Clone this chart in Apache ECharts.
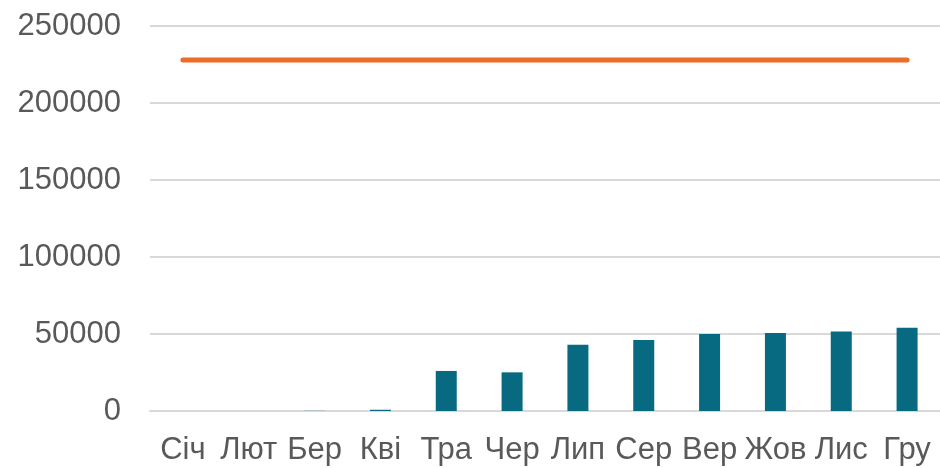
<!DOCTYPE html>
<html><head><meta charset="utf-8">
<script src="https://cdn.jsdelivr.net/npm/echarts@6/dist/echarts.min.js"></script>
<style>html,body{margin:0;padding:0;background:#fff}#c{width:940px;height:468px}</style>
</head><body><div id="c"></div>
<script>
const categories = ['Січ','Лют','Бер','Кві','Тра','Чер','Лип','Сер','Вер','Жов','Лис','Гру'];
const barValues = [0, 0, 100, 800, 26000, 25100, 43000, 46100, 50000, 50700, 51700, 54100];
const lineValues = [228000, 228000, 228000, 228000, 228000, 228000, 228000, 228000, 228000, 228000, 228000, 228000];
const yTicks = { min: 0, max: 250000, interval: 50000 };

const chart = echarts.init(document.getElementById('c'), null, {renderer:'canvas'});
chart.setOption({
  animation: false,
  backgroundColor: '#ffffff',
  grid: { left: 150, right: -5, top: 26, bottom: 57, containLabel: false },
  xAxis: {
    type: 'category', data: categories, boundaryGap: true,
    axisLine: { show: true, lineStyle: { color: '#d9d9d9', width: 2 } },
    axisTick: { show: false },
    axisLabel: { color: '#595959', fontFamily: 'Liberation Sans, Arial, sans-serif', fontSize: 31, margin: 24, interval: 0 }
  },
  yAxis: {
    type: 'value', min: yTicks.min, max: yTicks.max, interval: yTicks.interval,
    axisLine: { show: false }, axisTick: { show: false },
    splitLine: { lineStyle: { color: '#d9d9d9', width: 2 } },
    axisLabel: { color: '#595959', fontFamily: 'Liberation Sans, Arial, sans-serif', fontSize: 31, margin: 29,
      formatter: v => String(v) }
  },
  series: [
    { type: 'bar', data: barValues, barWidth: 21, itemStyle: { color: '#076a80' } },
    { type: 'line', data: lineValues, symbol: 'none', lineStyle: { color: '#ec6d25', width: 5, cap: 'round' } }
  ]
});
</script></body></html>
